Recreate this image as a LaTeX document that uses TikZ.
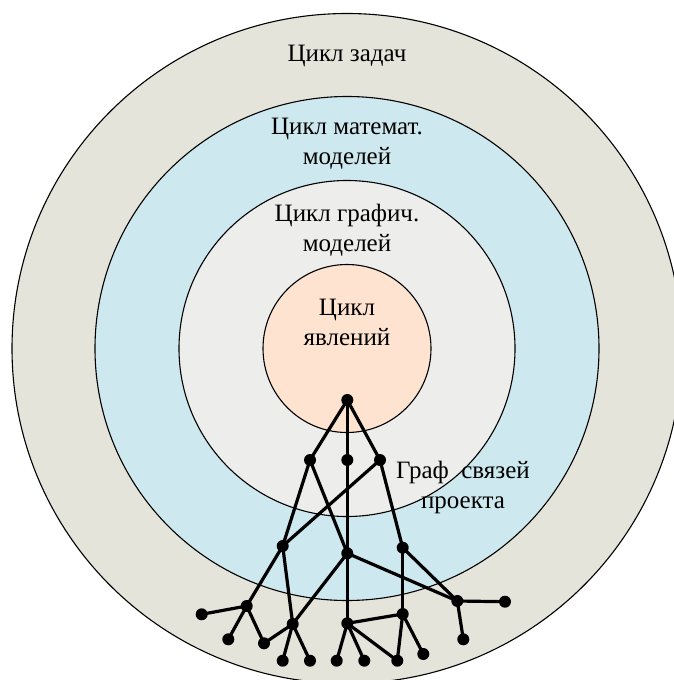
\documentclass[tikz,border=0pt]{standalone}
\usepackage{fontspec}
\setmainfont{Liberation Serif}
\definecolor{ringA}{HTML}{E4E4DA}
\definecolor{ringB}{HTML}{CDE8EE}
\definecolor{ringC}{HTML}{EDEEEC}
\definecolor{ringD}{HTML}{FEE3D1}
\begin{document}
\begin{tikzpicture}[x=1pt,y=-1pt,
  ring/.style={draw=black,line width=1.1pt},
  dot/.style={circle,fill=black,inner sep=0pt,minimum size=12pt},
  lab/.style={font=\fontsize{25}{30}\selectfont,align=center,inner sep=0pt},
  edge/.style={line width=3.2pt}]
\fill[white] (0,0) rectangle (674,680);
\clip (0,0) rectangle (674,680);
\coordinate (ctr) at (347,348.5);
\draw[ring,fill=ringA] (ctr) circle[radius=335];
\draw[ring,fill=ringB] (ctr) circle[radius=252];
\draw[ring,fill=ringC] (ctr) circle[radius=168];
\draw[ring,fill=ringD] (ctr) circle[radius=84];

\node[lab] (t1) at (347,56) {Цикл задач};
\node[lab] (t2) at (347,144) {Цикл математ.\\моделей};
\node[lab] (t3) at (347,230) {Цикл графич.\\моделей};
\node[lab] (t4) at (347,322) {Цикл\\явлений};
\node[lab] (t5) at (463,487) {Граф\ \ связей\\проекта};

\node[dot] (top) at (347.3,400) {};
\node[dot] (a1) at (310,460) {};
\node[dot] (a2) at (347.3,460) {};
\node[dot] (a3) at (380,460) {};
\node[dot] (b1) at (282.7,546) {};
\node[dot] (b2) at (347.3,553.3) {};
\node[dot] (b3) at (402.7,547.7) {};
\node[dot] (c1) at (246.7,606) {};
\node[dot] (c2) at (292.7,624) {};
\node[dot] (c3) at (347.3,623.3) {};
\node[dot] (c4) at (402.7,614) {};
\node[dot] (c5) at (457.3,601) {};
\node[dot] (l1) at (201.7,614.3) {};
\node[dot] (l2) at (228.3,639.3) {};
\node[dot] (l3) at (264,643.3) {};
\node[dot] (l4) at (282.7,660.7) {};
\node[dot] (l5) at (310,660.7) {};
\node[dot] (l6) at (336.7,660.7) {};
\node[dot] (l7) at (364.3,660.7) {};
\node[dot] (l8) at (397.3,660.7) {};
\node[dot] (l9) at (423.3,654) {};
\node[dot] (l10) at (505,601.7) {};
\node[dot] (l11) at (463.3,639.3) {};

\draw[edge] (top.center) -- (a1.center);
\draw[edge] (top.center) -- (a2.center);
\draw[edge] (top.center) -- (a3.center);
\draw[edge] (a2.center) -- (b2.center);
\draw[edge] (b2.center) -- (c3.center);
\draw[edge] (a1.center) -- (b1.center);
\draw[edge] (a1.center) -- (b2.center);
\draw[edge] (a3.center) -- (b1.center);
\draw[edge] (a3.center) -- (b3.center);
\draw[edge] (b1.center) -- (c1.center);
\draw[edge] (b1.center) -- (c2.center);
\draw[edge] (b2.center) -- (c2.center);
\draw[edge] (b2.center) -- (c5.center);
\draw[edge] (b3.center) -- (c4.center);
\draw[edge] (b3.center) -- (c5.center);
\draw[edge] (c1.center) -- (l1.center);
\draw[edge] (c1.center) -- (l2.center);
\draw[edge] (c1.center) -- (l3.center);
\draw[edge] (l3.center) -- (c2.center);
\draw[edge] (c2.center) -- (l4.center);
\draw[edge] (c2.center) -- (l5.center);
\draw[edge] (c3.center) -- (l6.center);
\draw[edge] (c3.center) -- (l7.center);
\draw[edge] (c3.center) -- (l8.center);
\draw[edge] (c3.center) -- (c4.center);
\draw[edge] (c4.center) -- (l8.center);
\draw[edge] (c4.center) -- (l9.center);
\draw[edge] (c5.center) -- (l10.center);
\draw[edge] (c5.center) -- (l11.center);
\end{tikzpicture}
\end{document}
